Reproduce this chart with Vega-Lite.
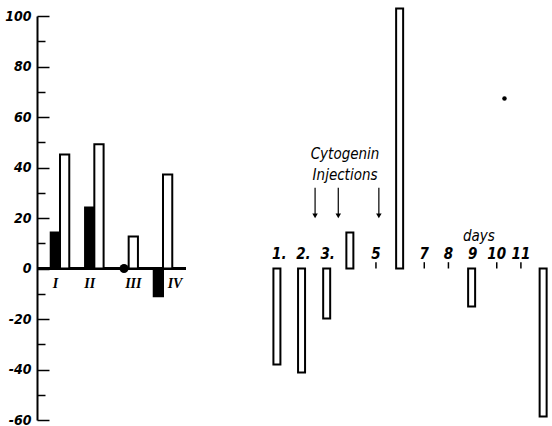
{
  "$schema": "https://vega.github.io/schema/vega-lite/v6.json",
  "padding": {"left": 0, "top": 7, "right": 0, "bottom": 0},
  "background": "white",
  "config": {"view": {"stroke": null}},
  "spacing": 69,
  "bounds": "flush",
  "datasets": {
    "groups": [
      {"group": "I", "series": "black", "value": 14.3},
      {"group": "I", "series": "white", "value": 45.1},
      {"group": "II", "series": "black", "value": 24.2},
      {"group": "II", "series": "white", "value": 49.2},
      {"group": "III", "series": "white", "value": 12.7},
      {"group": "IV", "series": "black", "value": -11},
      {"group": "IV", "series": "white", "value": 37.2}
    ],
    "dots": [{"group": "III", "series": "black", "value": 0}],
    "romans": [
      {"group": "I", "series": "black", "zero": 0},
      {"group": "II", "series": "black", "zero": 0},
      {"group": "III", "series": "white", "zero": 0}
    ],
    "romans2": [
      {"group": "IV", "series": "white", "zero": 0}
    ],
    "days": [
      {"day": 0.9, "value": -38},
      {"day": 1.92, "value": -41.2},
      {"day": 2.96, "value": -19.8},
      {"day": 3.92, "value": 14.3},
      {"day": 5.98, "value": 103},
      {"day": 8.96, "value": -15},
      {"day": 11.92, "value": -58.6}
    ],
    "daylabels": [
      {"day": 1, "label": "1."},
      {"day": 2, "label": "2."},
      {"day": 3, "label": "3."},
      {"day": 5, "label": "5"},
      {"day": 7, "label": "7"},
      {"day": 8, "label": "8"},
      {"day": 9, "label": "9"},
      {"day": 10, "label": "10"},
      {"day": 11, "label": "11"}
    ],
    "ticks": [{"day": 5}, {"day": 7}, {"day": 8}, {"day": 10}, {"day": 11}],
    "arrows": [{"day": 2.48}, {"day": 3.44}, {"day": 5.12}],
    "notes": [
      {"day": 3.72, "value": 43.2, "text": "Cytogenin"},
      {"day": 3.72, "value": 35.2, "text": "Injections"},
      {"day": 9.26, "value": 10.8, "text": "days"}
    ]
  },
  "hconcat": [
    {
      "width": 149,
      "height": 404,
      "data": {"name": "groups"},
      "encoding": {
        "y": {
          "field": "value",
          "type": "quantitative",
          "scale": {"domain": [-60, 100], "nice": false, "zero": false},
          "axis": {
            "title": null,
            "grid": false,
            "values": [-60, -50, -40, -30, -20, -10, 0, 10, 20, 30, 40, 50, 60, 70, 80, 90, 100],
            "labelExpr": "datum.value % 20 === 0 ? replace(datum.label, '−', '-') : ''",
            "domainColor": "black",
            "domainWidth": 2,
            "ticks": true,
            "tickColor": "black",
            "tickWidth": 1.5,
            "tickOpacity": 1,
            "tickSize": {"condition": {"test": "datum.value % 20 === 0", "value": -12}, "value": -8},
            "labelPadding": 18,
            "labelFont": "Liberation Sans Narrow, DejaVu Sans Condensed, Roboto Condensed, Liberation Sans",
            "labelFontStyle": "italic",
            "labelFontWeight": "bold",
            "labelFontSize": 14,
            "labelColor": "black",
            "zindex": 1,
            "minExtent": 37,
            "maxExtent": 37
          }
        }
      },
      "layer": [
        {
          "mark": {"type": "rule", "stroke": "black", "strokeWidth": 2},
          "encoding": {"y": {"datum": 0}}
        },
        {
          "mark": {"type": "bar", "stroke": "black", "strokeWidth": 2},
          "encoding": {
            "x": {
              "field": "group",
              "type": "nominal",
              "scale": {"domain": ["I", "II", "III", "IV"], "paddingInner": 0.46, "paddingOuter": 0.4},
              "axis": null
            },
            "xOffset": {"field": "series", "type": "nominal", "scale": {"domain": ["black", "white"], "paddingInner": 0, "paddingOuter": 0}},
            "fill": {"field": "series", "type": "nominal", "scale": {"domain": ["black", "white"], "range": ["black", "white"]}, "legend": null}
          }
        },
        {
          "data": {"name": "dots"},
          "mark": {"type": "point", "filled": true, "shape": "circle", "size": 80, "color": "black", "opacity": 1},
          "encoding": {
            "x": {"field": "group", "type": "nominal"},
            "xOffset": {"field": "series", "type": "nominal"}
          }
        },
        {
          "data": {"name": "romans"},
          "mark": {"type": "text", "baseline": "top", "dy": 8, "font": "Liberation Serif, DejaVu Serif", "fontStyle": "italic", "fontWeight": "bold", "fontSize": 14, "color": "black"},
          "encoding": {
            "x": {"field": "group", "type": "nominal"},
            "xOffset": {"field": "series", "type": "nominal"},
            "y": {"field": "zero", "type": "quantitative"},
            "text": {"field": "group", "type": "nominal"}
          }
        },
        {
          "data": {"name": "romans2"},
          "mark": {"type": "text", "align": "left", "baseline": "top", "dy": 8, "font": "Liberation Serif, DejaVu Serif", "fontStyle": "italic", "fontWeight": "bold", "fontSize": 14, "color": "black"},
          "encoding": {
            "x": {"field": "group", "type": "nominal"},
            "xOffset": {"field": "series", "type": "nominal"},
            "y": {"field": "zero", "type": "quantitative"},
            "text": {"field": "group", "type": "nominal"}
          }
        }
      ]
    },
    {
      "width": 297,
      "height": 404,
      "layer": [
        {
          "mark": {"type": "rule", "stroke": "black", "strokeWidth": 2},
          "encoding": {
            "x": {"datum": 0.72, "type": "quantitative", "scale": {"domain": [0.2, 12.08], "nice": false, "zero": false}, "axis": null},
            "x2": {"datum": 12.08},
            "y": {"datum": 0, "type": "quantitative", "scale": {"domain": [-60, 100], "nice": false, "zero": false}, "axis": null}
          }
        },
        {
          "data": {"name": "ticks"},
          "mark": {"type": "rule", "stroke": "black", "strokeWidth": 1.5},
          "encoding": {
            "x": {"field": "day", "type": "quantitative"},
            "y": {"datum": 0},
            "y2": {"datum": 2.5}
          }
        },
        {
          "data": {"name": "days"},
          "mark": {"type": "bar", "fill": "white", "stroke": "black", "strokeWidth": 2, "size": 7},
          "encoding": {
            "x": {"field": "day", "type": "quantitative"},
            "y": {"field": "value", "type": "quantitative"},
            "y2": {"datum": 0}
          }
        },
        {
          "data": {"name": "daylabels"},
          "mark": {"type": "text", "baseline": "alphabetic", "dy": -10, "font": "Liberation Sans Narrow, DejaVu Sans Condensed, Roboto Condensed, Liberation Sans", "fontStyle": "italic", "fontWeight": "bold", "fontSize": 15, "color": "black"},
          "encoding": {
            "x": {"field": "day", "type": "quantitative"},
            "y": {"datum": 0},
            "text": {"field": "label"}
          }
        },
        {
          "data": {"name": "arrows"},
          "mark": {"type": "rule", "stroke": "black", "strokeWidth": 1.2},
          "encoding": {
            "x": {"field": "day", "type": "quantitative"},
            "y": {"datum": 32},
            "y2": {"datum": 21}
          }
        },
        {
          "data": {"name": "arrows"},
          "mark": {"type": "point", "shape": "triangle-down", "filled": true, "size": 30, "color": "black", "opacity": 1},
          "encoding": {
            "x": {"field": "day", "type": "quantitative"},
            "y": {"datum": 20.8}
          }
        },
        {
          "data": {"name": "notes"},
          "mark": {"type": "text", "baseline": "alphabetic", "font": "Liberation Sans Narrow, DejaVu Sans Condensed, Roboto Condensed, Liberation Sans", "fontStyle": "italic", "fontSize": 15, "color": "black"},
          "encoding": {
            "x": {"field": "day", "type": "quantitative"},
            "y": {"field": "value", "type": "quantitative"},
            "text": {"field": "text"}
          }
        },
        {
          "data": {"values": [{"day": 10.32, "value": 67.3}]},
          "mark": {"type": "point", "filled": true, "size": 20, "color": "black", "opacity": 1},
          "encoding": {
            "x": {"field": "day", "type": "quantitative"},
            "y": {"field": "value", "type": "quantitative"}
          }
        }
      ]
    }
  ]
}
